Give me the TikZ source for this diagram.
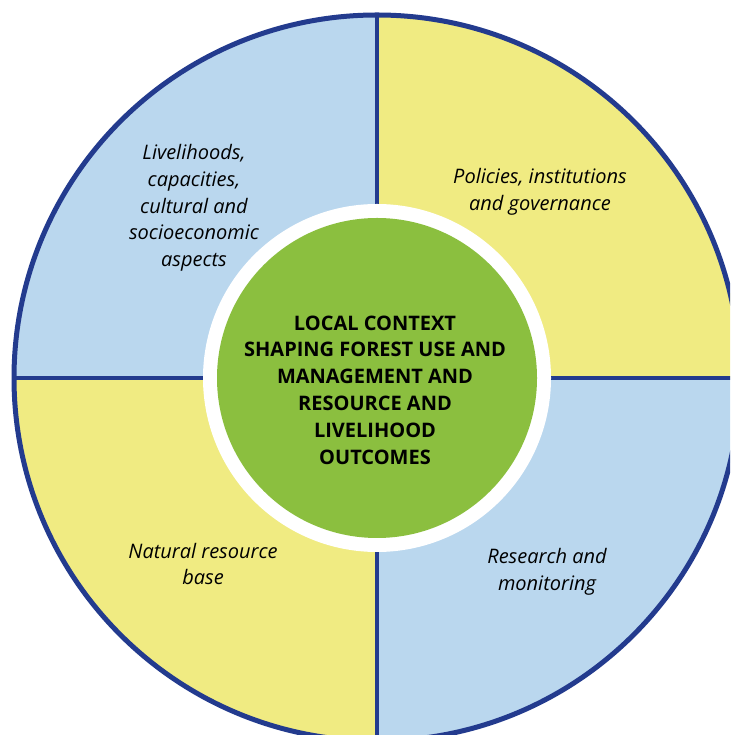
\documentclass[tikz,border=0pt]{standalone}
\usepackage{fontspec}
\setmainfont{Open Sans}
\usetikzlibrary{positioning}
\definecolor{ringblue}{HTML}{233B8E}
\definecolor{paleblue}{HTML}{BAD7EE}
\definecolor{paleyellow}{HTML}{F0EB82}
\definecolor{leafgreen}{HTML}{8BBF3F}
\begin{document}
\begin{tikzpicture}[
        x=1pt, y=1pt,
        rim/.style={draw=ringblue, line width=5pt},
        divider/.style={draw=ringblue, line width=4.5pt},
        aspect/.style={align=center, font=\itshape\fontsize{20}{26.8}\selectfont},
        core/.style={align=center, font=\bfseries\fontsize{20}{26.8}\selectfont}
    ]
        \useasboundingbox (0,0) rectangle (730,735);
        \clip (0,0) rectangle (730,735);
        \fill[white] (0,0) rectangle (730,735);
        \coordinate (mid) at (377,357);

        % Quadranten
        \fill[paleyellow] (mid) -- ++(0:363) arc[start angle=0, end angle=90, radius=363] -- cycle;
        \fill[paleblue] (mid) -- ++(90:363) arc[start angle=90, end angle=180, radius=363] -- cycle;
        \fill[paleyellow] (mid) -- ++(180:363) arc[start angle=180, end angle=270, radius=363] -- cycle;
        \fill[paleblue] (mid) -- ++(270:363) arc[start angle=270, end angle=360, radius=363] -- cycle;

        % Rand und Trennlinien
        \draw[divider] ([yshift=363]mid) -- ([yshift=-363]mid);
        \draw[divider] ([xshift=-363]mid) -- ([xshift=363]mid);
        \draw[rim] (mid) circle[radius=363];

        % Mitte
        \fill[white] (mid) circle[radius=174];
        \fill[leafgreen] (mid) circle[radius=160];

        % Texte
        \node[aspect] (liv) at (194,527) {Livelihoods,\\capacities,\\cultural and\\socioeconomic\\aspects};
        \node[aspect] (pol) at (540,543) {Policies, institutions\\and governance};
        \node[aspect] (nat) at (203,171) {Natural resource\\base};
        \node[aspect] (res) at (547,163) {Research and\\monitoring};
        \node[core] (ctx) at (375,345) {LOCAL CONTEXT\\SHAPING FOREST USE AND\\MANAGEMENT AND\\RESOURCE AND\\LIVELIHOOD\\OUTCOMES};
\end{tikzpicture}
\end{document}
